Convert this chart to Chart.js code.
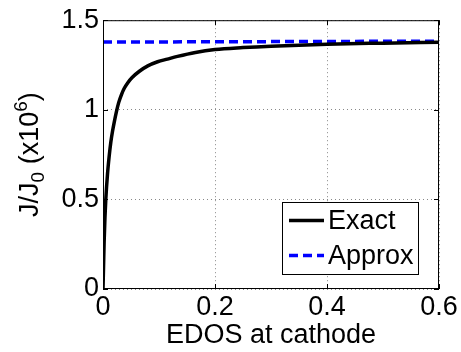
<!DOCTYPE html>
<html>
<head>
<meta charset="utf-8">
<script src="https://cdn.jsdelivr.net/npm/chart.js@4"></script>
<style>
  html, body { margin: 0; padding: 0; background: #fff; }
  #wrap { width: 461px; height: 352px; }
</style>
</head>
<body>
<div id="wrap"><canvas id="c" width="461" height="352"></canvas></div>
<script>
// ---------------------------------------------------------------------------
// Data
// ---------------------------------------------------------------------------
const edos = [0, 0.001, 0.002, 0.0035, 0.005, 0.008, 0.011, 0.014, 0.017, 0.02,
  0.024, 0.028, 0.033, 0.038, 0.044, 0.052, 0.065, 0.08, 0.0975, 0.115,
  0.133, 0.165, 0.2, 0.25, 0.3, 0.4, 0.5, 0.6];
const exactJ = [0, 0.13, 0.26, 0.40, 0.50, 0.64, 0.74, 0.82, 0.88, 0.93,
  0.99, 1.04, 1.085, 1.12, 1.15, 1.18, 1.215, 1.245, 1.268, 1.283,
  1.298, 1.320, 1.336, 1.347, 1.355, 1.366, 1.372, 1.377];
const approxEdos = [0, 0.6];
const approxJ = [1.378, 1.383];

const seriesLabels = ['Exact', 'Approx'];
const xTicks = [0, 0.2, 0.4, 0.6];
const yTicks = [0, 0.5, 1, 1.5];
const xTitle = 'EDOS at cathode';

const FONT = '"Liberation Sans", Arial, Helvetica, sans-serif';
const FONT_SIZE = 27;

const toPoints = (xs, ys) => xs.map((x, i) => ({ x, y: ys[i] }));

// ---------------------------------------------------------------------------
// Frame, inward ticks, y title (with sub/superscript) and boxed legend
// ---------------------------------------------------------------------------
const matlabDecor = {
  id: 'matlabDecor',
  afterDatasetsDraw(chart) {
    const { ctx, chartArea: a, scales } = chart;
    ctx.save();
    ctx.strokeStyle = '#000';
    ctx.lineWidth = 1;
    ctx.strokeRect(a.left + 0.5, a.top + 0.5, a.right - a.left - 1, a.bottom - a.top - 1);

    // inward tick marks on all four sides
    const tl = 5;
    ctx.beginPath();
    xTicks.forEach(v => {
      const px = Math.round(scales.x.getPixelForValue(v)) + 0.5;
      ctx.moveTo(px, a.bottom); ctx.lineTo(px, a.bottom - tl);
      ctx.moveTo(px, a.top); ctx.lineTo(px, a.top + tl);
    });
    yTicks.forEach(v => {
      const py = Math.round(scales.y.getPixelForValue(v)) + 0.5;
      ctx.moveTo(a.left, py); ctx.lineTo(a.left + tl, py);
      ctx.moveTo(a.right, py); ctx.lineTo(a.right - tl, py);
    });
    ctx.stroke();

    // legend box, bottom right of the plot area
    const ds = chart.data.datasets;
    ctx.font = `${FONT_SIZE}px ${FONT}`;
    const textW = Math.max(...ds.map(d => ctx.measureText(d.label).width));
    const sample = 35, rowH = 35, padL = 7, gap = 4, padR = 4, padV = 1;
    const boxW = padL + sample + gap + textW + padR;
    const boxH = padV * 2 + rowH * ds.length;
    const bx = Math.round(a.right - 21 - boxW);
    const by = Math.round(a.bottom - 15 - boxH);
    ctx.fillStyle = '#fff';
    ctx.fillRect(bx, by, boxW, boxH);
    ctx.strokeStyle = '#000';
    ctx.lineWidth = 1;
    ctx.strokeRect(bx + 0.5, by + 0.5, Math.round(boxW), Math.round(boxH));
    ds.forEach((d, i) => {
      const cy = by + padV + rowH * i + rowH / 2;
      ctx.beginPath();
      ctx.strokeStyle = d.borderColor;
      ctx.lineWidth = d.borderWidth;
      ctx.setLineDash(d.borderDash || []);
      ctx.moveTo(bx + padL, cy);
      ctx.lineTo(bx + padL + sample, cy);
      ctx.stroke();
      ctx.setLineDash([]);
      ctx.fillStyle = '#000';
      ctx.textBaseline = 'middle';
      ctx.textAlign = 'left';
      ctx.fillText(d.label, bx + padL + sample + gap, cy + 1);
    });

    // y title: J/J0 (x10^6), rotated
    const pieces = [
      { t: 'J/J', size: FONT_SIZE, dy: 0 },
      { t: '0', size: 19, dy: 6 },
      { t: ' (x10', size: FONT_SIZE, dy: 0 },
      { t: '6', size: 19, dy: -11 },
      { t: ')', size: FONT_SIZE, dy: 0 }
    ];
    let total = 0;
    pieces.forEach(p => { ctx.font = `${p.size}px ${FONT}`; p.w = ctx.measureText(p.t).width; total += p.w; });
    ctx.translate(38, (a.top + a.bottom) / 2);
    ctx.rotate(-Math.PI / 2);
    ctx.fillStyle = '#000';
    ctx.textBaseline = 'alphabetic';
    let x = -total / 2;
    pieces.forEach(p => {
      ctx.font = `${p.size}px ${FONT}`;
      ctx.fillText(p.t, x, p.dy);
      x += p.w;
    });
    ctx.restore();
  }
};

const gridDots = { display: true, color: '#888', lineWidth: 1, drawTicks: false };

new Chart(document.getElementById('c'), {
  type: 'line',
  data: {
    datasets: [
      {
        label: seriesLabels[0],
        data: toPoints(edos, exactJ),
        borderColor: '#000',
        borderWidth: 3.5,
        pointRadius: 0,
        fill: false,
        cubicInterpolationMode: 'monotone'
      },
      {
        label: seriesLabels[1],
        data: toPoints(approxEdos, approxJ),
        borderColor: '#0000ff',
        borderWidth: 3.5,
        borderDash: [9, 5],
        pointRadius: 0,
        fill: false
      }
    ]
  },
  options: {
    responsive: false,
    animation: false,
    devicePixelRatio: 1,
    layout: { padding: { left: 0, right: 22, top: 16, bottom: 0 } },
    plugins: { legend: { display: false }, tooltip: { enabled: false } },
    scales: {
      x: {
        type: 'linear',
        min: 0, max: 0.6,
        afterBuildTicks: s => { s.ticks = xTicks.map(v => ({ value: v })); },
        afterFit: s => { s.height = 63; },
        grid: gridDots,
        border: { display: false, dash: [1, 3] },
        ticks: { color: '#000', padding: 2, maxRotation: 0, callback: v => String(v), font: { family: FONT, size: FONT_SIZE } },
        title: { display: true, text: xTitle, color: '#000', padding: { top: -8, bottom: 0 }, font: { family: FONT, size: FONT_SIZE } }
      },
      y: {
        type: 'linear',
        min: 0, max: 1.5,
        afterBuildTicks: s => { s.ticks = yTicks.map(v => ({ value: v })); },
        afterFit: s => { s.width = 103; },
        grid: gridDots,
        border: { display: false, dash: [1, 3] },
        ticks: { color: '#000', padding: 4, callback: v => String(v), font: { family: FONT, size: FONT_SIZE } }
      }
    }
  },
  plugins: [matlabDecor]
});
</script>
</body>
</html>
